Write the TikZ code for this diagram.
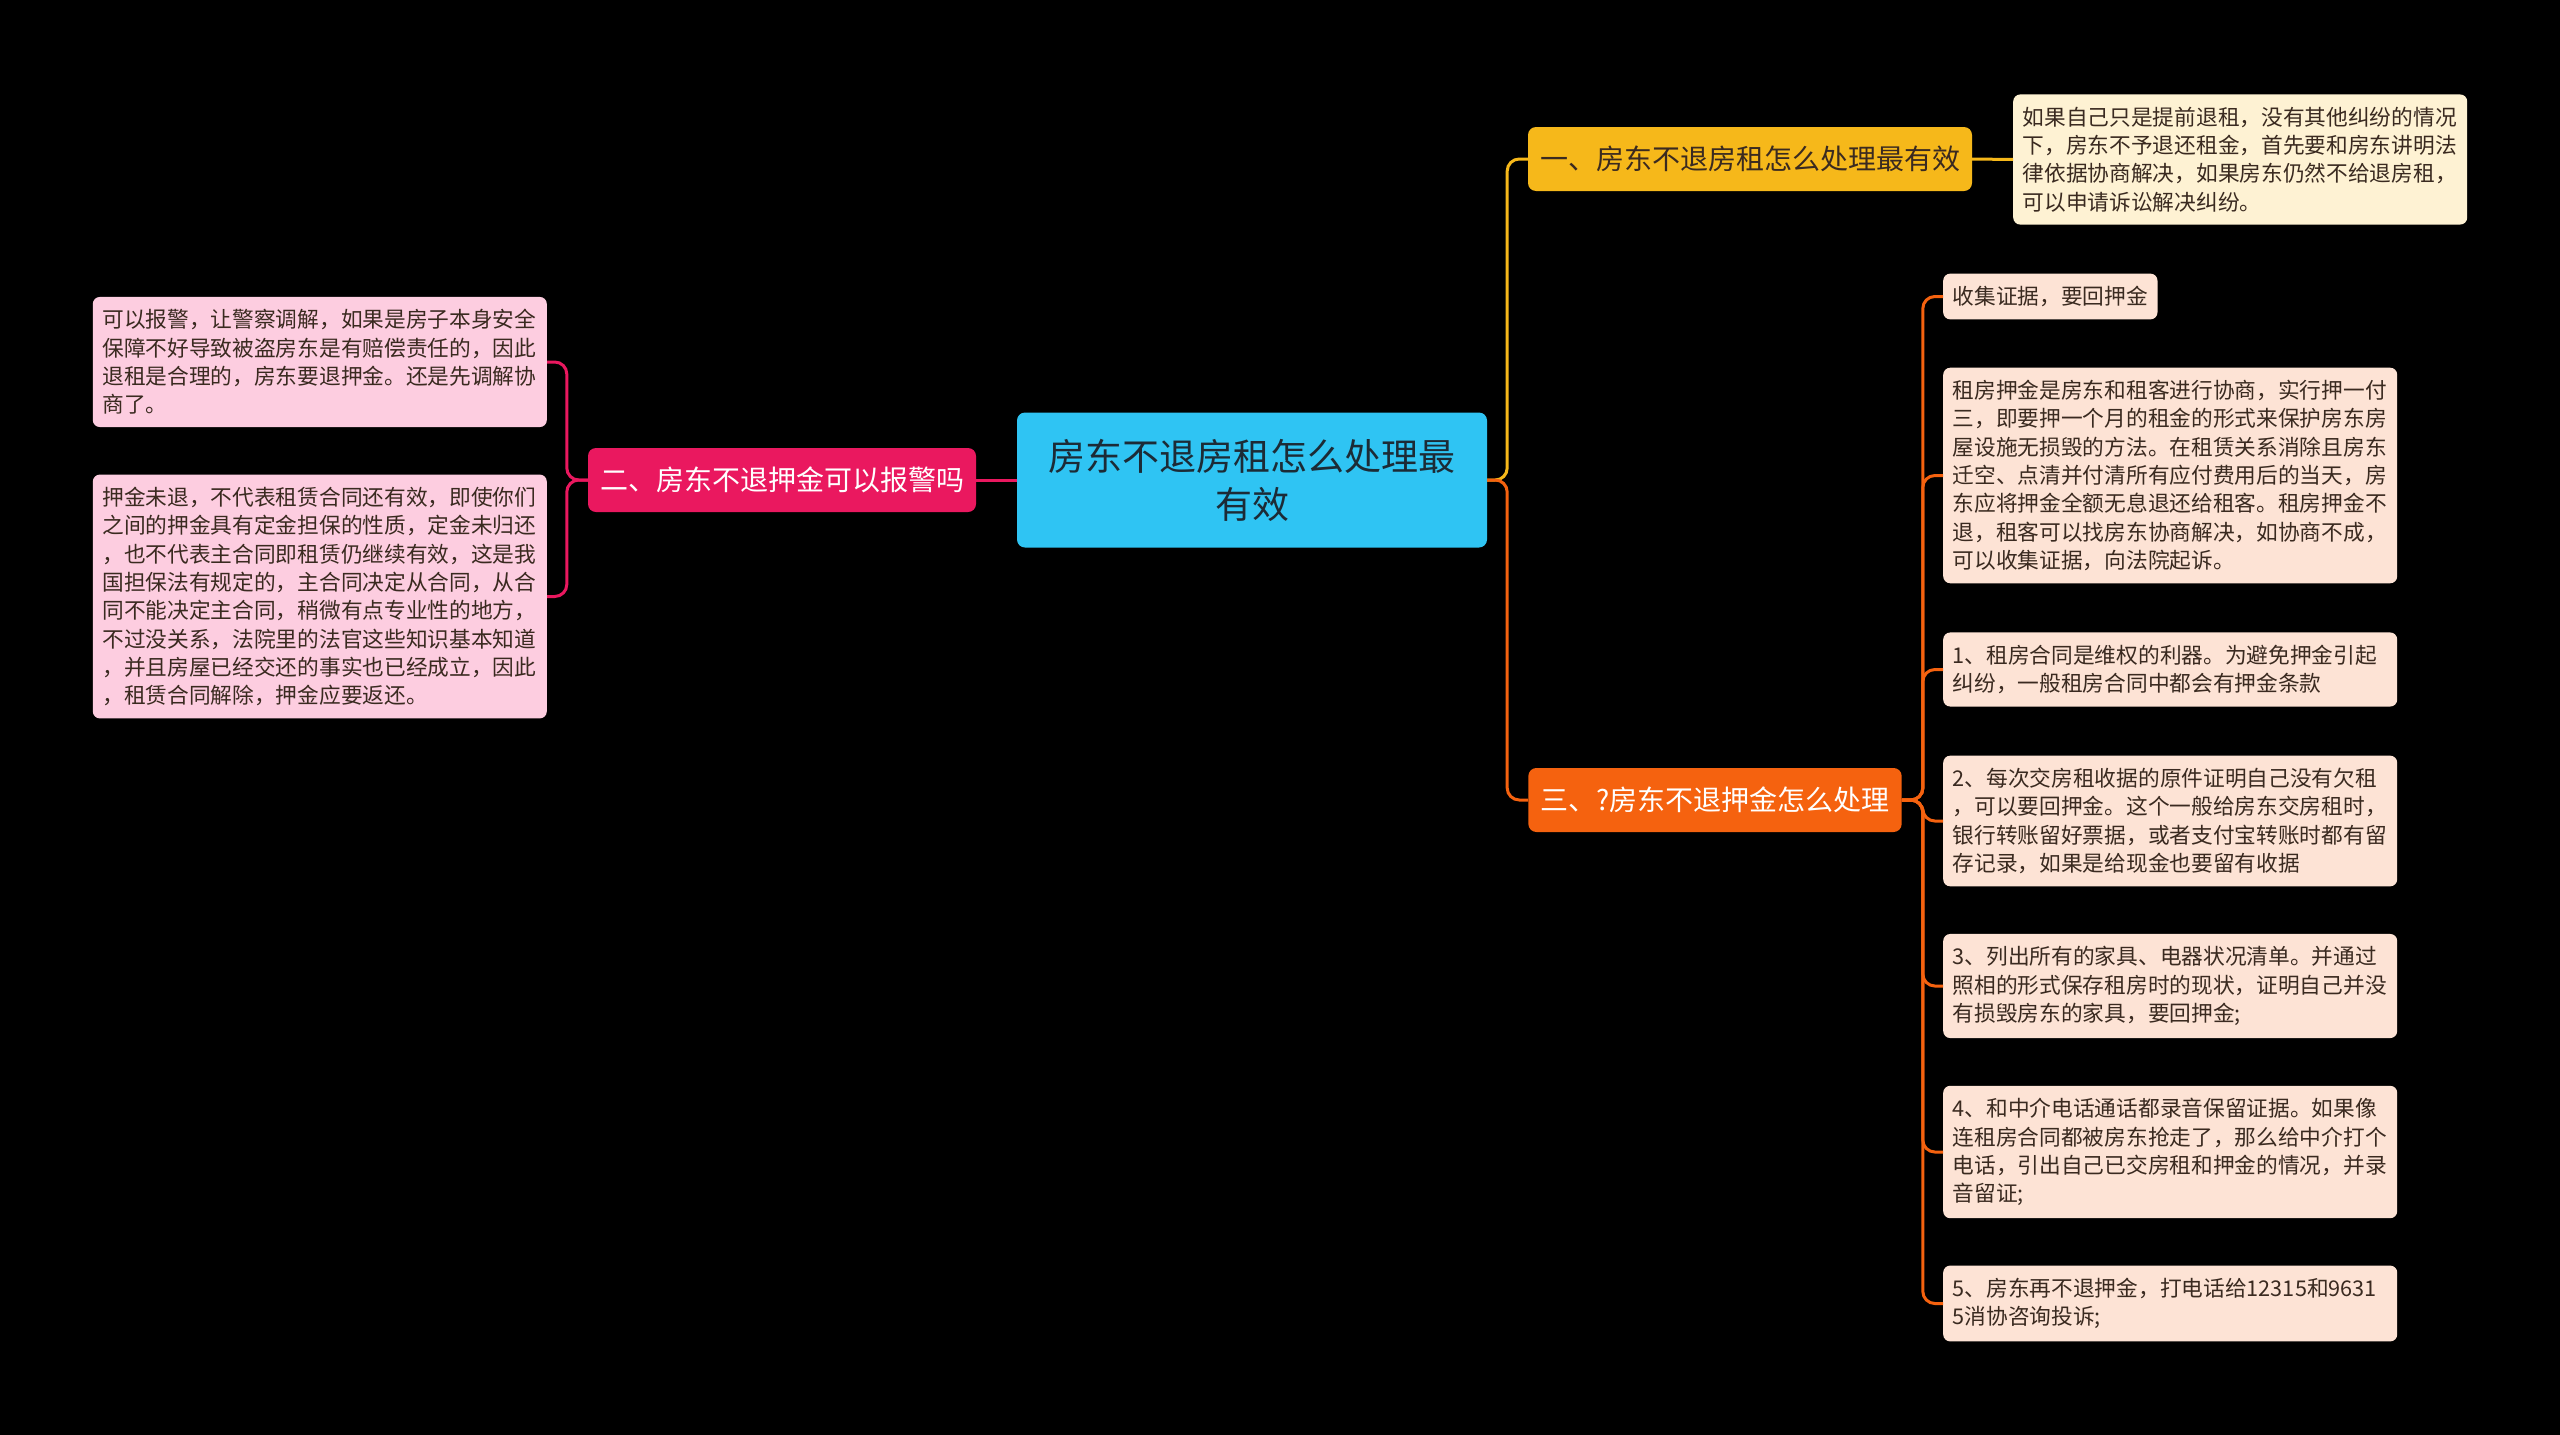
\documentclass[tikz,border=0pt]{standalone}
\usepackage{fontspec}
\setmainfont{Noto Sans CJK SC}
\usetikzlibrary{positioning}

\definecolor{mapRoot}{HTML}{2FC4F3}
\definecolor{mapRootText}{HTML}{1C2B36}
\definecolor{mapYellow}{HTML}{F6B81A}
\definecolor{mapCream}{HTML}{FEF2D3}
\definecolor{mapPink}{HTML}{EA185F}
\definecolor{mapPinkLeaf}{HTML}{FDCDE0}
\definecolor{mapOrange}{HTML}{F5620F}
\definecolor{mapPeach}{HTML}{FDE3D5}
\definecolor{mapDark}{HTML}{3A2A20}

\tikzset{
  rootbox/.style={fill=mapRoot,text=mapRootText,rounded corners=8pt,align=center,
    minimum width=470pt,minimum height=135pt,inner sep=0pt,
    font=\fontsize{37}{48}\selectfont},
  branchbox/.style={rounded corners=8pt,minimum height=64pt,inner xsep=12pt,inner ysep=0pt,
    font=\fontsize{28}{34}\selectfont},
  leafbox/.style={rounded corners=7pt,inner xsep=9.5pt,inner ysep=12.5pt,align=left,
    text=mapDark,font=\fontsize{21.7}{28.3}\selectfont},
  wide/.style={text width=435pt},
  link/.style={line width=3pt,rounded corners=12pt}
}

\begin{document}
\begin{tikzpicture}[x=1pt,y=-1pt]
\fill[black] (0,0) rectangle (2560,1435);
\useasboundingbox (0,0) rectangle (2560,1435);

% centre
\node[rootbox] (root) at (1252,480) {房东不退房租怎么处理最\\有效};

% branches
\node[branchbox,fill=mapYellow,text=mapDark] (br1) at (1750,159) {一、房东不退房租怎么处理最有效};
\node[branchbox,fill=mapPink,text=white] (br2) at (782,480) {二、房东不退押金可以报警吗};
\node[branchbox,fill=mapOrange,text=white] (br3) at (1715,800) {三、?房东不退押金怎么处理};

% leaves of branch one
\node[leafbox,wide,fill=mapCream,anchor=west] (y1) at (2013,159.5)
  {如果自己只是提前退租，没有其他纠纷的情况\\下，房东不予退还租金，首先要和房东讲明法\\律依据协商解决，如果房东仍然不给退房租，\\可以申请诉讼解决纠纷。};

% leaves of branch two
\node[leafbox,wide,fill=mapPinkLeaf,anchor=east] (p1) at (547,362)
  {可以报警，让警察调解，如果是房子本身安全\\保障不好导致被盗房东是有赔偿责任的，因此\\退租是合理的，房东要退押金。还是先调解协\\商了。};
\node[leafbox,wide,fill=mapPinkLeaf,anchor=east] (p2) at (547,596.5)
  {押金未退，不代表租赁合同还有效，即使你们\\之间的押金具有定金担保的性质，定金未归还\\，也不代表主合同即租赁仍继续有效，这是我\\国担保法有规定的，主合同决定从合同，从合\\同不能决定主合同，稍微有点专业性的地方，\\不过没关系，法院里的法官这些知识基本知道\\，并且房屋已经交还的事实也已经成立，因此\\，租赁合同解除，押金应要返还。};

% leaves of branch three
\node[leafbox,fill=mapPeach,anchor=west] (o0) at (1943,296.5) {收集证据，要回押金};
\node[leafbox,wide,fill=mapPeach,anchor=west] (o1) at (1943,475.5)
  {租房押金是房东和租客进行协商，实行押一付\\三，即要押一个月的租金的形式来保护房东房\\屋设施无损毁的方法。在租赁关系消除且房东\\迁空、点清并付清所有应付费用后的当天，房\\东应将押金全额无息退还给租客。租房押金不\\退，租客可以找房东协商解决，如协商不成，\\可以收集证据，向法院起诉。};
\node[leafbox,wide,fill=mapPeach,anchor=west] (o2) at (1943,669.5)
  {1、租房合同是维权的利器。为避免押金引起\\纠纷，一般租房合同中都会有押金条款};
\node[leafbox,wide,fill=mapPeach,anchor=west] (o3) at (1943,821)
  {2、每次交房租收据的原件证明自己没有欠租\\，可以要回押金。这个一般给房东交房租时，\\银行转账留好票据，或者支付宝转账时都有留\\存记录，如果是给现金也要留有收据};
\node[leafbox,wide,fill=mapPeach,anchor=west] (o4) at (1943,986)
  {3、列出所有的家具、电器状况清单。并通过\\照相的形式保存租房时的现状，证明自己并没\\有损毁房东的家具，要回押金;};
\node[leafbox,wide,fill=mapPeach,anchor=west] (o5) at (1943,1152)
  {4、和中介电话通话都录音保留证据。如果像\\连租房合同都被房东抢走了，那么给中介打个\\电话，引出自己已交房租和押金的情况，并录\\音留证;};
\node[leafbox,wide,fill=mapPeach,anchor=west] (o6) at (1943,1303.5)
  {5、房东再不退押金，打电话给12315和9631\\5消协咨询投诉;};

% connectors
\draw[link,mapYellow] (root.east) -- ++(20,0) |- (br1.west);
\draw[link,mapOrange] (root.east) -- ++(20,0) |- (br3.west);
\draw[link,mapPink] (root.west) -- (br2.east);
\draw[link,mapYellow] (br1.east) -- (y1.west);
\foreach \leaf in {p1,p2}
  \draw[link,mapPink] (br2.west) -- ++(-21,0) |- (\leaf.east);
\foreach \leaf in {o0,o1,o2,o3,o4,o5,o6}
  \draw[link,mapOrange] (br3.east) -- ++(21,0) |- (\leaf.west);
\end{tikzpicture}
\end{document}
